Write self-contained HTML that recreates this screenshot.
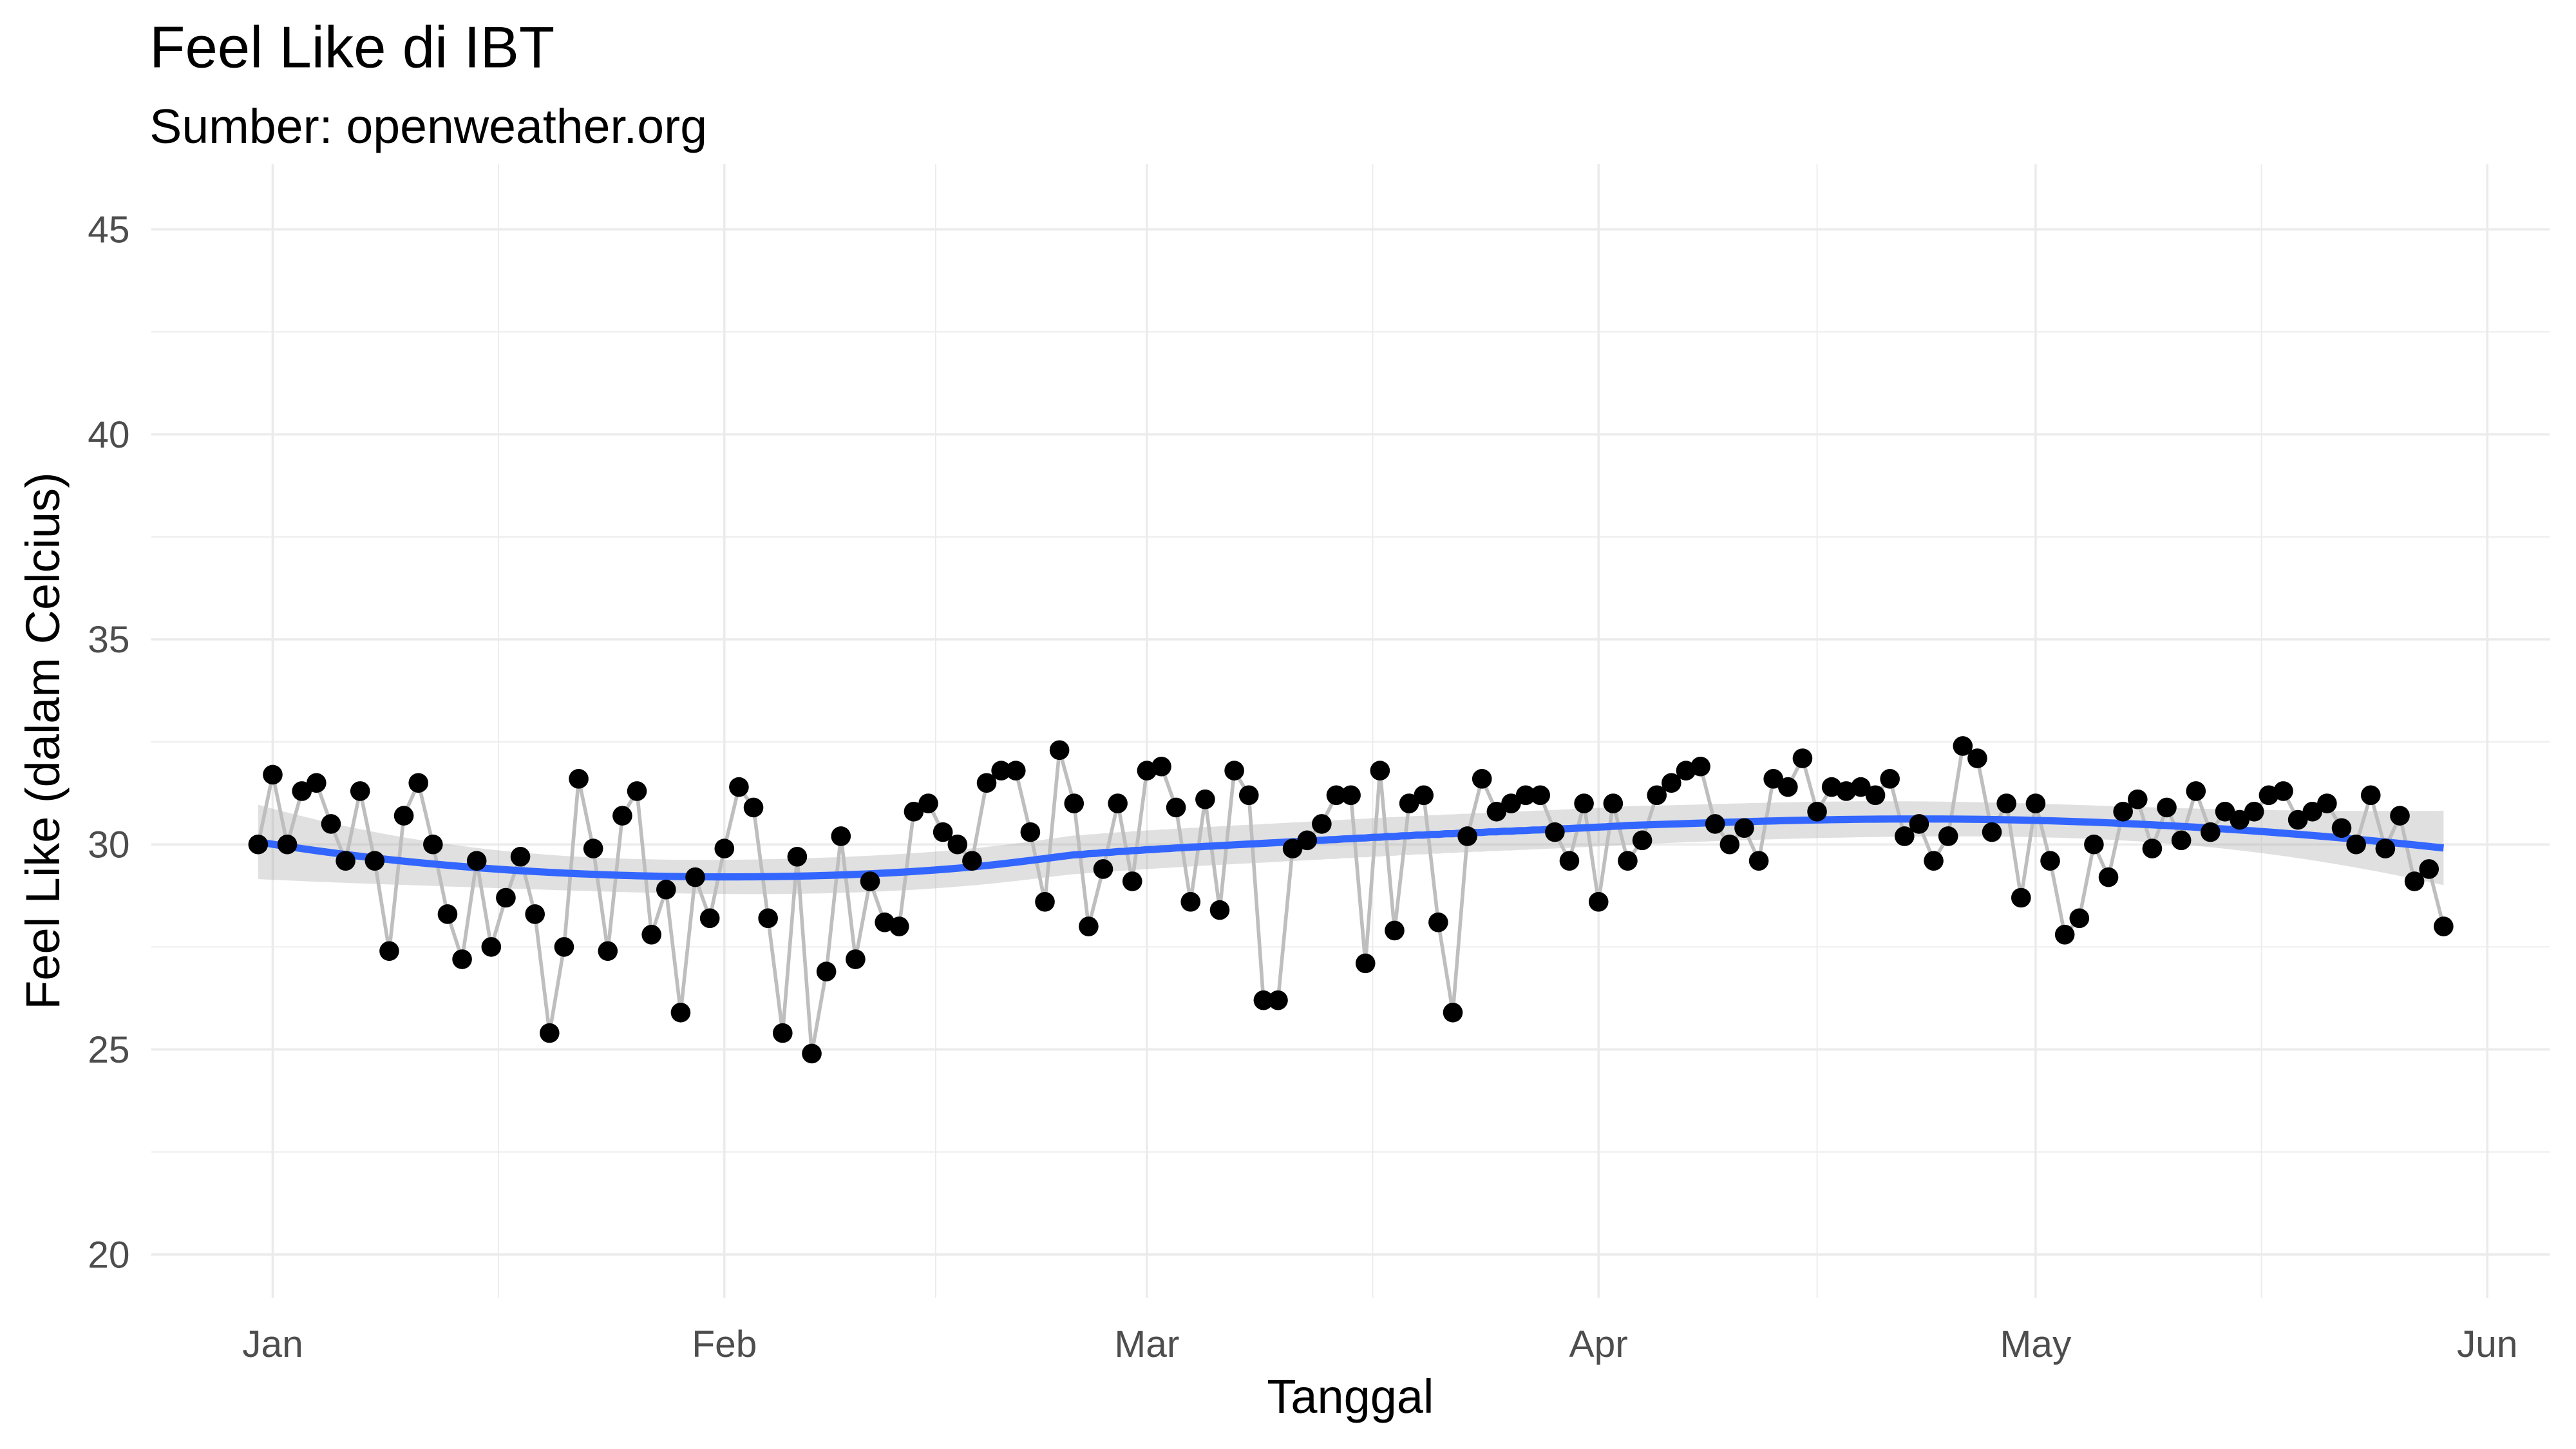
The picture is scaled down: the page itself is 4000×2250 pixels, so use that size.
<!DOCTYPE html>
<html><head><meta charset="utf-8"><style>
html,body{margin:0;padding:0;background:#fff;}
svg{display:block;font-family:"Liberation Sans",sans-serif;}
</style></head><body>
<svg id="chart" width="4000" height="2250" viewBox="0 0 1568 882" xmlns="http://www.w3.org/2000/svg">
<rect width="1568" height="882" fill="#fff"/>
<g id="grid"></g><g id="band"></g><g id="series"></g><g id="axes"></g>
<text x="91" y="41" font-size="35.5" fill="#000">Feel Like di IBT</text>
<text x="91" y="87" font-size="29.5" fill="#000">Sumber: openweather.org</text>
<text x="822" y="860" font-size="29" text-anchor="middle" fill="#000">Tanggal</text>
<text transform="translate(36,451) rotate(-90)" font-size="29" text-anchor="middle" fill="#000">Feel Like (dalam Celcius)</text>
</svg>
<script>
const startDay = -1; // 31 Dec
const feelLike = [30.0,31.7,30.0,31.3,31.5,30.5,29.6,31.3,29.6,27.4,30.7,31.5,30.0,28.3,27.2,29.6,27.5,28.7,29.7,28.3,25.4,27.5,31.6,29.9,27.4,30.7,31.3,27.8,28.9,25.9,29.2,28.2,29.9,31.4,30.9,28.2,25.4,29.7,24.9,26.9,30.2,27.2,29.1,28.1,28.0,30.8,31.0,30.3,30.0,29.6,31.5,31.8,31.8,30.3,28.6,32.3,31.0,28.0,29.4,31.0,29.1,31.8,31.9,30.9,28.6,31.1,28.4,31.8,31.2,26.2,26.2,29.9,30.1,30.5,31.2,31.2,27.1,31.8,27.9,31.0,31.2,28.1,25.9,30.2,31.6,30.8,31.0,31.2,31.2,30.3,29.6,31.0,28.6,31.0,29.6,30.1,31.2,31.5,31.8,31.9,30.5,30.0,30.4,29.6,31.6,31.4,32.1,30.8,31.4,31.3,31.4,31.2,31.6,30.2,30.5,29.6,30.2,32.4,32.1,30.3,31.0,28.7,31.0,29.6,27.8,28.2,30.0,29.2,30.8,31.1,29.9,30.9,30.1,31.3,30.3,30.8,30.6,30.8,31.2,31.3,30.6,30.8,31.0,30.4,30.0,31.2,29.9,30.7,29.1,29.4,28.0];
const monthLabels = ["Jan","Feb","Mar","Apr","May","Jun"];
const monthDays = [0,31,60,91,121,152];
const minorDays = [15.5,45.5,75.5,106,136.5];
const yTicks = [20,25,30,35,40,45];
const yMinor = [22.5,27.5,32.5,37.5,42.5];

const NS="http://www.w3.org/2000/svg";
const X0=166, PXD=(1514-166)/152;
const xs = d => X0 + d*PXD;
const ys = v => 514 - (v-30)*24.96;
const PL=92, PR=1552, PT=100, PB=790;
function mk(tag, parent, attrs){const e=document.createElementNS(NS,tag);for(const k in attrs)e.setAttribute(k,attrs[k]);parent.appendChild(e);return e;}
const grid=document.getElementById('grid'), axes=document.getElementById('axes');
yMinor.forEach(v=>{const l=mk('line',grid,{x1:PL,x2:PR,y1:ys(v),y2:ys(v),stroke:'#ebebeb','stroke-width':0.7});

});
minorDays.forEach(d=>{const l=mk('line',grid,{x1:xs(d),x2:xs(d),y1:PT,y2:PB,stroke:'#ebebeb','stroke-width':0.7});

});
yTicks.forEach(v=>{const l=mk('line',grid,{x1:PL,x2:PR,y1:ys(v),y2:ys(v),stroke:'#ebebeb','stroke-width':1.4});


const t=mk('text',axes,{x:79,y:ys(v)+8,'font-size':23,'text-anchor':'end',fill:'#4d4d4d'});t.textContent=v;

});
monthDays.forEach((d,i)=>{const l=mk('line',grid,{x1:xs(d),x2:xs(d),y1:PT,y2:PB,stroke:'#ebebeb','stroke-width':1.4});


const t=mk('text',axes,{x:xs(d),y:826,'font-size':23,'text-anchor':'middle',fill:'#4d4d4d'});t.textContent=monthLabels[i];

});

// loess (degree 2, span 0.75) with SE
const n=feelLike.length, days=feelLike.map((_,i)=>startDay+i);
function solve3(A,b){const M=A.map((r,i)=>[...r,b[i]]);for(let i=0;i<3;i++){let p=i;for(let k=i+1;k<3;k++)if(Math.abs(M[k][i])>Math.abs(M[p][i]))p=k;[M[i],M[p]]=[M[p],M[i]];for(let k=i+1;k<3;k++){const f=M[k][i]/M[i][i];for(let j=i;j<4;j++)M[k][j]-=f*M[i][j];}}const x=[0,0,0];for(let i=2;i>=0;i--){let s=M[i][3];for(let j=i+1;j<3;j++)s-=M[i][j]*x[j];x[i]=s/M[i][i];}return x;}
function loessAt(x0){const q=Math.floor(0.75*n);const dist=days.map(d=>Math.abs(d-x0));const h=[...dist].sort((a,b)=>a-b)[q-1]*1.0001;
const w=dist.map(d=>{const u=d/h;return u<1?Math.pow(1-u*u*u,3):0;});
const A=[[0,0,0],[0,0,0],[0,0,0]];for(let i=0;i<n;i++){const z=[1,days[i]-x0,(days[i]-x0)**2];for(let a=0;a<3;a++)for(let b=0;b<3;b++)A[a][b]+=w[i]*z[a]*z[b];}
const c=solve3(A,[1,0,0]);let fit=0,ss=0;for(let i=0;i<n;i++){const dx=days[i]-x0;const li=w[i]*(c[0]+c[1]*dx+c[2]*dx*dx);fit+=li*feelLike[i];ss+=li*li;}return [fit,Math.sqrt(ss)];}
const fits=days.map(d=>loessAt(d)[0]);let rss=0;for(let i=0;i<n;i++)rss+=(feelLike[i]-fits[i])**2;const sigma=Math.sqrt(rss/(n-5));
const sm=[];for(let d=startDay;d<=days[n-1];d+=0.5){const [f,s]=loessAt(d);sm.push([d,f,s*sigma*1.97]);}
const bandPts=sm.map(p=>xs(p[0])+','+ys(p[1]+p[2])).concat(sm.slice().reverse().map(p=>xs(p[0])+','+ys(p[1]-p[2])));
const band=mk('polygon',document.getElementById('band'),{points:bandPts.join(' '),fill:'#999999','fill-opacity':0.3});


const series=document.getElementById('series');
const line=mk('polyline',series,{points:feelLike.map((v,i)=>xs(days[i])+','+ys(v)).join(' '),fill:'none',stroke:'#bebebe','stroke-width':2.2,'stroke-linejoin':'round'});


const smooth=mk('polyline',series,{points:sm.map(p=>xs(p[0])+','+ys(p[1])).join(' '),fill:'none',stroke:'#3366ff','stroke-width':4.4});


feelLike.forEach((v,i)=>{const c=mk('circle',series,{cx:xs(days[i]),cy:ys(v),r:6,fill:'#000'});

});
</script>
</body></html>
